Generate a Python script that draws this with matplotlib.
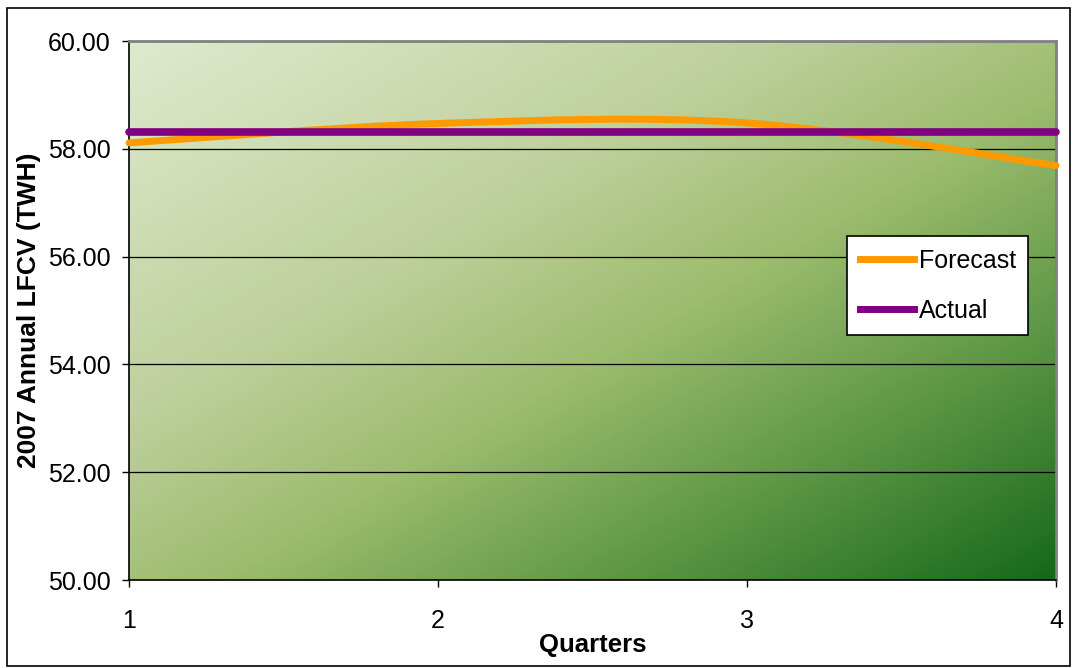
import numpy as np
import matplotlib
matplotlib.use("Agg")
import matplotlib.pyplot as plt
from matplotlib.colors import LinearSegmentedColormap
from matplotlib.path import Path
from matplotlib.patches import PathPatch, Rectangle
from matplotlib.lines import Line2D

plt.rcParams['font.family'] = ['Liberation Sans', 'DejaVu Sans']

quarters = [1, 2, 3, 4]
forecast = [58.11, 58.47, 58.48, 57.69]
actual = [58.32, 58.32, 58.32, 58.32]
yticks = [50, 52, 54, 56, 58, 60]

ORANGE = '#ff9900'
PURPLE = '#800080'

fig = plt.figure(figsize=(10.77, 6.68), dpi=100)
ax = fig.add_axes([0.1198, 0.1317, 0.8607, 0.8069])

# corner gradient fill for the plot area
bg = LinearSegmentedColormap.from_list('bg', [
    (0.0, (222/255, 234/255, 206/255)),
    (0.35, (190/255, 208/255, 155/255)),
    (0.55, (156/255, 188/255, 110/255)),
    (0.78, (88/255, 148/255, 66/255)),
    (1.0, (22/255, 105/255, 26/255)),
])
u, v = np.meshgrid(np.linspace(0, 1, 400), np.linspace(0, 1, 250))
ax.imshow((u + v) / 2, cmap=bg, extent=[0, 1, 0, 1], transform=ax.transAxes,
          aspect='auto', origin='upper', zorder=0, interpolation='bilinear')

ax.set_xlim(1, 4)
ax.set_ylim(50, 60)

for y in yticks[1:-1]:
    ax.axhline(y, color='black', lw=0.9, zorder=1)


# smoothed forecast line (bezier segments, 1/6 tangent rule)
def smooth_path(xs, ys):
    pts = np.column_stack([xs, ys]).astype(float)
    n = len(pts)
    verts = [pts[0]]
    codes = [Path.MOVETO]
    for i in range(n - 1):
        p0 = pts[i - 1] if i > 0 else pts[i]
        p1, p2 = pts[i], pts[i + 1]
        p3 = pts[i + 2] if i + 2 < n else pts[i + 1]
        c1 = p1 + (p2 - p0) / 6
        c2 = p2 - (p3 - p1) / 6
        verts += [c1, c2, p2]
        codes += [Path.CURVE4] * 3
    return Path(verts, codes)


ax.add_patch(PathPatch(smooth_path(quarters, forecast), fill=False, edgecolor=ORANGE,
                       lw=5, capstyle='round', joinstyle='round', zorder=3,
                       clip_on=False))
ax.plot(quarters, actual, color=PURPLE, lw=5.5, solid_capstyle='round', zorder=4,
        clip_on=False)

ax.set_xticks(quarters)
ax.set_yticks(yticks)
ax.set_yticklabels(['%.2f' % t for t in yticks])
ax.tick_params(axis='both', labelsize=18, direction='out', length=5, width=1,
               color='black')
ax.tick_params(axis='x', pad=16)
ax.tick_params(axis='y', pad=8)

for s in ['left', 'bottom']:
    ax.spines[s].set_color('black')
    ax.spines[s].set_linewidth(1.2)
for s in ['top', 'right']:
    ax.spines[s].set_color('#808080')
    ax.spines[s].set_linewidth(2)

ax.set_xlabel('Quarters', fontsize=18.5, fontweight='bold', labelpad=0)
ax.set_ylabel('2007 Annual LFCV (TWH)', fontsize=19, fontweight='bold', labelpad=5)

handles = [Line2D([], [], color=ORANGE, lw=5), Line2D([], [], color=PURPLE, lw=5)]
leg = ax.legend(handles, ['Forecast', 'Actual'], loc='upper right',
                bbox_to_anchor=(0.970, 0.638), fontsize=18, frameon=True,
                fancybox=False, framealpha=1, edgecolor='black', borderaxespad=0,
                handlelength=2.15, handletextpad=0.2, labelspacing=1.05,
                borderpad=0.5)
leg.get_frame().set_linewidth(1.2)

# outer chart border
fig.patches.append(Rectangle((7 / 1077, 2 / 668), 1063 / 1077, 658 / 668,
                             transform=fig.transFigure, fill=False,
                             edgecolor='black', lw=1.2))

fig.savefig('out.png', dpi=100)
